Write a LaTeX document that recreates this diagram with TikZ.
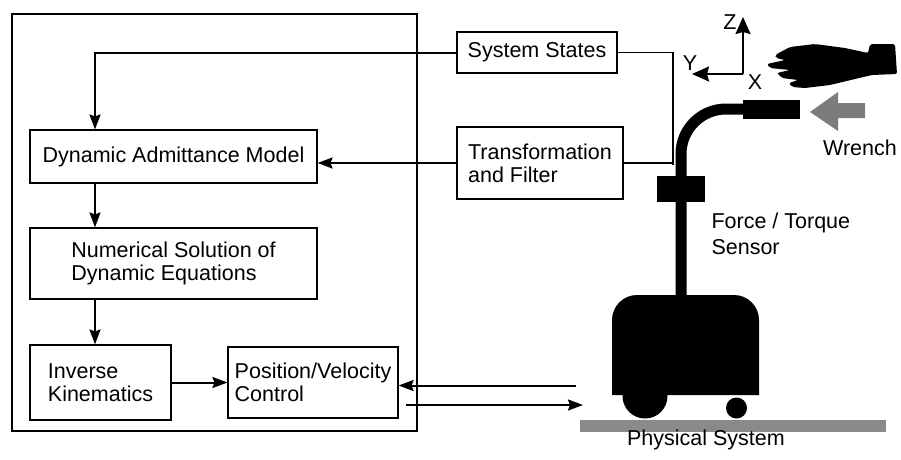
\documentclass[tikz,border=0pt]{standalone}
\usepackage{fontspec}
\setmainfont{Liberation Sans}
\usetikzlibrary{arrows.meta}
\definecolor{stipple}{HTML}{8A8A8A}
\begin{document}
\begin{tikzpicture}[x=1pt,y=-1pt,
  every node/.style={font=\fontsize{21.5}{23}\selectfont},
  blk/.style={draw, line width=1.1pt, align=left, inner sep=0pt},
  flow/.style={line width=2pt, -{Stealth[length=15pt,width=11pt,inset=2pt]}},
  wire/.style={line width=1.3pt},
  axis/.style={line width=2pt, -{Stealth[length=17pt,width=15pt,inset=2pt]}}]
\useasboundingbox (0,0) rectangle (901,459);

% controller frame
\draw[line width=1.1pt] (12,14) rectangle (417,431);

% processing blocks
\node[blk, minimum width=287pt, minimum height=53pt] (dam) at (173.5,156.5) {Dynamic Admittance Model};
\node[blk, minimum width=287pt, minimum height=71pt] (nsde) at (173.5,263.5) {Numerical Solution of\\Dynamic Equations};
\node[blk, minimum width=141pt, minimum height=75pt] (ik) at (100.5,382.5) {Inverse\\Kinematics};
\node[blk, minimum width=170pt, minimum height=71pt] (pvc) at (313,382.5) {Position/Velocity\\Control};
\node[blk, minimum width=160pt, minimum height=41pt] (ss) at (537,52.5) {System States};
\node[blk, minimum width=166pt, minimum height=72pt] (tf) at (540,163) {Transformation\\and Filter};

% sensor tap on the robot pole
\coordinate (tap) at (673,165);
\coordinate (drvin) at (576,385.5);
\coordinate (drvout) at (583,405);

% signal connectors
\draw[wire] (ss.east) -| (tap);
\draw[wire] (tf.east) -- (tf.east -| tap);
\draw[flow] (ss.west) -| ([xshift=-78.5pt]dam.north);
\draw[flow] (tf.west) -- (tf.west -| dam.east);
\draw[flow] ([xshift=-78.5pt]dam.south) -- ([xshift=-78.5pt]nsde.north);
\draw[flow] ([xshift=-78.5pt]nsde.south) -- ([xshift=-5.5pt]ik.north);
\draw[flow] (ik.east) -- (pvc.west);
\draw[flow] (drvin) -- (drvin -| pvc.east);
\draw[flow] ([xshift=7pt]pvc.east |- drvout) -- (drvout);

% robot: pole, sensor and end effector
\draw[line width=11pt, rounded corners=45pt] (681,300) -- (681,109) -- (746,109);
\fill (657,176) rectangle (705,202);
\fill (743,100) rectangle (800,119);

% robot base and wheels
\fill (612,395) -- (612,320) arc[start angle=180,end angle=270,radius=25]
  -- (734,295) arc[start angle=270,end angle=360,radius=25] -- (759,395) -- cycle;
\fill (645,396) circle (22.5);
\fill (736.5,408) circle (10.5);
\fill[stipple] (580,420) rectangle (886,432);

% coordinate frame
\coordinate (o) at (743,74);
\draw[axis] (o) -- (743,17);
\draw[axis] (o) -- (692,74);
\node (zl) at (730,22) {Z};
\node (yl) at (690,63) {Y};
\node (xl) at (755,82) {X};

% hand applying the wrench
\fill[rounded corners=2pt] (775,55) -- (790,47) -- (815,44) -- (845,48) -- (868,53)
  -- (870,44) -- (895,44) -- (897,74) -- (872,75) -- (855,79) -- (830,85)
  -- (805,88) -- (792,87) -- (789,83) -- (798,80) -- (782,78) -- (777,73)
  -- (790,70) -- (770,68) -- (767,64) -- (785,60) -- (776,58) -- cycle;

% wrench arrow
\fill[stipple!90!black] (810,112) -- (838,92) -- (838,103) -- (865,103)
  -- (865,118) -- (838,118) -- (838,131) -- cycle;

% labels
\node (wl) at (860,148) {Wrench};
\node[anchor=west, align=left, font=\fontsize{21.5}{26}\selectfont] (fts) at (708,234) {Force / Torque\\Sensor};
\node (psl) at (706,440) {Physical System};
\end{tikzpicture}
\end{document}
